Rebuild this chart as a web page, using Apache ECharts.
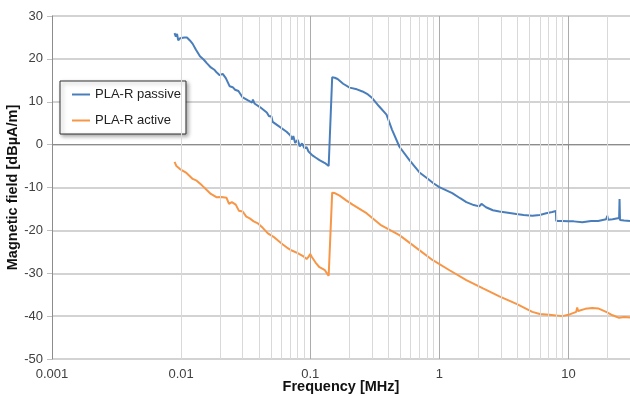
<!DOCTYPE html>
<html><head><meta charset="utf-8">
<script src="https://cdn.jsdelivr.net/npm/echarts@6/dist/echarts.min.js"></script>
<style>html,body{margin:0;padding:0;background:#fff}#c{width:630px;height:396px}</style>
</head><body><div id="c"></div>
<script>
// Frequency [MHz], field [dBµA/m]
const passive = [[0.0089,26],[0.0091,25.2],[0.0093,25.8],[0.0095,24.3],[0.0098,24.8],[0.0101,24.5],[0.0106,25],[0.0111,25],[0.0117,24.3],[0.0123,23.5],[0.013,22.2],[0.014,20.6],[0.015,19.8],[0.0158,19],[0.017,18],[0.0182,17.4],[0.0189,16.8],[0.0199,16.2],[0.021,16.5],[0.0222,15.5],[0.0238,13.6],[0.0245,13.2],[0.0251,13.4],[0.0262,12.8],[0.0278,12.5],[0.030,11],[0.033,10.3],[0.0355,9.8],[0.036,10.5],[0.037,9.6],[0.041,8.7],[0.0461,7.5],[0.048,6.6],[0.05,6.6],[0.0512,5.3],[0.057,4.3],[0.0656,3],[0.07,2.2],[0.0725,1.2],[0.074,2],[0.0765,0.4],[0.08,1.1],[0.083,-0.4],[0.0865,0.3],[0.09,-0.8],[0.0938,-0.6],[0.097,-1.6],[0.1,-1.3],[0.104,-2.5],[0.11,-3],[0.118,-3.6],[0.13,-4.3],[0.139,-5],[0.148,15.7],[0.155,15.6],[0.163,15.3],[0.18,14.2],[0.202,13.3],[0.23,12.9],[0.254,12.4],[0.28,11.7],[0.299,11],[0.34,9],[0.39,7],[0.43,3.5],[0.491,-0.5],[0.587,-3.6],[0.702,-6.5],[0.8,-7.8],[0.9,-9],[1.0,-9.9],[1.26,-11.3],[1.45,-12.5],[1.62,-13.4],[1.85,-14.1],[2.04,-14.4],[2.12,-13.8],[2.3,-14.6],[2.6,-15.3],[2.92,-15.6],[3.4,-15.9],[3.95,-16.2],[4.5,-16.4],[5.25,-16.6],[6.0,-16.4],[6.73,-16],[7.5,-15.7],[8.0,-15.5],[8.05,-17.8],[9,-17.8],[10,-17.9],[11,-17.9],[12.8,-18.1],[15,-17.8],[17,-17.8],[19.6,-17.4],[20,-16.6],[20.3,-17.5],[22,-17.4],[24.7,-17.1],[24.9,-12.7],[25.1,-17.6],[25.6,-18],[27,-17.7],[30,-17.8]];
const active = [[0.0089,-4],[0.0092,-5],[0.0095,-5.2],[0.0098,-5.7],[0.0101,-5.5],[0.011,-6.6],[0.0123,-8],[0.0132,-8.4],[0.0145,-9.5],[0.0158,-10.6],[0.017,-11.5],[0.0189,-12.3],[0.0205,-12.2],[0.0225,-12.4],[0.0235,-13.8],[0.0247,-13.4],[0.0265,-14],[0.028,-15.4],[0.030,-15.6],[0.032,-16.8],[0.034,-17.2],[0.0365,-17.9],[0.039,-18.3],[0.0429,-19.4],[0.047,-20.7],[0.052,-21.5],[0.0613,-23.3],[0.066,-24],[0.072,-24.7],[0.08,-25.3],[0.088,-26],[0.0938,-26.7],[0.097,-26.2],[0.1,-25.5],[0.103,-26.2],[0.11,-27.5],[0.118,-28.6],[0.13,-29.3],[0.139,-30.6],[0.148,-11.2],[0.155,-11.3],[0.169,-11.9],[0.19,-13],[0.213,-14],[0.25,-15.3],[0.273,-16],[0.35,-18.7],[0.491,-21.1],[0.7,-24.6],[0.885,-26.9],[1.2,-29.3],[1.62,-31.6],[2.2,-33.6],[2.92,-35.4],[4,-37.2],[5.25,-39],[6,-39.5],[7.11,-39.7],[8.95,-40],[10,-39.7],[11.5,-39],[11.7,-38],[11.9,-38.8],[13.5,-38.3],[15.3,-38.1],[17,-38.2],[19.6,-39],[22,-39.8],[24.7,-40.4],[27,-40.2],[30,-40.3]];
const minorFreqs = [0.002,0.003,0.004,0.005,0.006,0.007,0.008,0.009,0.02,0.03,0.04,0.05,0.06,0.07,0.08,0.09,0.2,0.3,0.4,0.5,0.6,0.7,0.8,0.9,2,3,4,5,6,7,8,9,20];
const seriesNames = ['PLA-R passive','PLA-R active'];
const xName = 'Frequency [MHz]';
const yName = 'Magnetic field [dBµA/m]';

const chart = echarts.init(document.getElementById('c'), null, {renderer:'canvas'});
const font = 'Liberation Sans, Arial, sans-serif';
chart.setOption({
  animation:false,
  grid:{left:52,right:0,top:16,bottom:37,containLabel:false,outerBoundsMode:'none'},
  legend:{
    data:seriesNames, orient:'vertical', left:60, top:81,
    icon:'rect', itemWidth:18, itemHeight:2, itemGap:13,
    padding:[7,5,7,12],
    backgroundColor:'#fff', borderColor:'#333', borderWidth:1,
    shadowColor:'rgba(0,0,0,0.35)', shadowBlur:4, shadowOffsetX:2, shadowOffsetY:2,
    textStyle:{fontFamily:font,fontSize:13,color:'#222'}
  },
  xAxis:{
    type:'log', logBase:10, min:0.001, max:30,
    name:xName, nameLocation:'middle', nameGap:20, nameMoveOverlap:false,
    nameTextStyle:{fontFamily:font,fontSize:14.5,fontWeight:'bold',color:'#111'},
    axisLine:{lineStyle:{color:'#8c8c8c',width:1}},
    axisTick:{show:true,length:5,lineStyle:{color:'#8c8c8c'}},
    axisLabel:{fontFamily:font,fontSize:13,color:'#404040',margin:9,showMaxLabel:false,
      formatter:function(v){return String(+v.toPrecision(3));}},
    splitLine:{show:true,lineStyle:{color:'#acacac',width:1}}
  },
  yAxis:{
    type:'value', min:-50, max:30, interval:10,
    name:yName, nameLocation:'middle', nameGap:32, nameMoveOverlap:false,
    nameTextStyle:{fontFamily:font,fontSize:14.5,fontWeight:'bold',color:'#111'},
    axisLine:{show:true,lineStyle:{color:'#8c8c8c',width:1}},
    axisTick:{show:true,length:5,lineStyle:{color:'#bfbfbf'}},
    axisLabel:{fontFamily:font,fontSize:13,color:'#404040',margin:9},
    splitLine:{show:true,lineStyle:{color:'#c4c4c4',width:1.5}}
  },
  series:[
    {type:'line',name:'_grid',data:[],z:1,silent:true,
     markLine:{silent:true,symbol:'none',label:{show:false},animation:false,
       lineStyle:{color:'#d9d9d9',width:1,type:'solid'},
       data:minorFreqs.map(f=>({xAxis:f}))}},
    {type:'line',name:seriesNames[0],data:passive,showSymbol:false,symbol:'none',
     lineStyle:{color:'#4a7ebb',width:2},itemStyle:{color:'#4a7ebb'},z:3},
    {type:'line',name:seriesNames[1],data:active,showSymbol:false,symbol:'none',
     lineStyle:{color:'#f79646',width:2},itemStyle:{color:'#f79646'},z:3}
  ]
});
</script></body></html>
